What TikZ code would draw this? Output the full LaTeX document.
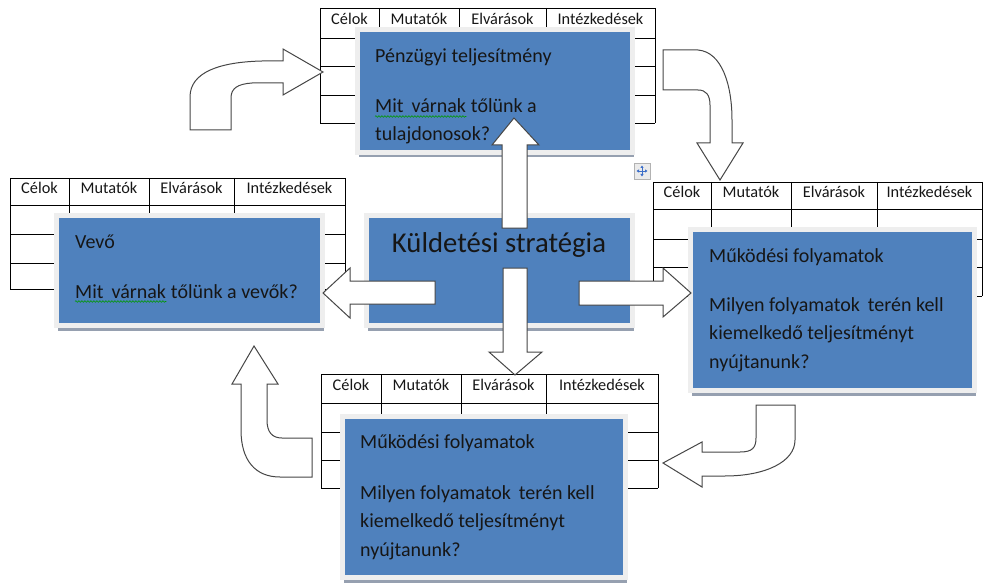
\documentclass[tikz,border=0pt]{standalone}
\usepackage{fontspec}
\setmainfont{Carlito}
\usetikzlibrary{decorations.pathmorphing,shadows,arrows.meta}
\definecolor{boxblue}{RGB}{79,129,189}
\definecolor{framec}{RGB}{238,238,238}
\definecolor{shadowc}{RGB}{150,160,176}
\definecolor{txt}{RGB}{22,22,22}
\definecolor{arrline}{RGB}{70,70,70}
\definecolor{iconblue}{RGB}{60,110,200}
\begin{document}
\begin{tikzpicture}[x=1pt,y=-1pt,
  tline/.style={line width=0.9pt,black},
  hdr/.style={font=\fontsize{16.3}{18}\selectfont, text=txt, inner sep=0},
  btxt/.style={font=\fontsize{20}{23}\selectfont, text=txt, anchor=base west, inner sep=0},
  bbox/.style={fill=boxblue, draw=framec, line width=5pt, inner sep=0,
    drop shadow={shadow xshift=1pt, shadow yshift=-5pt, fill=shadowc, opacity=1}},
  arr/.style={fill=white, draw=arrline, line width=1pt, line join=miter},
  squig/.style={draw=green!60!black, line width=0.6pt, decorate,
    decoration={snake, segment length=3pt, amplitude=0.8pt}},
]
\useasboundingbox (0,0) rectangle (986,583);

% ---------- tables ----------
% top table
\foreach \y in {8,38,66,95,123} \draw[tline] (320,\y) -- (655,\y);
\foreach \x in {320,379,459,546,655} \draw[tline] (\x,8) -- (\x,123);
\node[hdr] (th1) at (349.5,19) {Célok};
\node[hdr] (th2) at (419,19) {Mutatók};
\node[hdr] (th3) at (502.5,19) {Elvárások};
\node[hdr] (th4) at (600.5,19) {Intézkedések};
% left table
\foreach \y in {178,205,234,263,289} \draw[tline] (10,\y) -- (345,\y);
\foreach \x in {10,69,149,234,345} \draw[tline] (\x,178) -- (\x,289);
\node[hdr] (lh1) at (39.5,188) {Célok};
\node[hdr] (lh2) at (109,188) {Mutatók};
\node[hdr] (lh3) at (191.5,188) {Elvárások};
\node[hdr] (lh4) at (289.5,188) {Intézkedések};
% right table
\foreach \y in {182,209,239,267,296} \draw[tline] (653,\y) -- (982,\y);
\foreach \x in {653,711,791,877,982} \draw[tline] (\x,182) -- (\x,296);
\node[hdr] (rh1) at (682,192) {Célok};
\node[hdr] (rh2) at (751,192) {Mutatók};
\node[hdr] (rh3) at (834,192) {Elvárások};
\node[hdr] (rh4) at (929.5,192) {Intézkedések};
% bottom table
\foreach \y in {374,403,432,460,488} \draw[tline] (321,\y) -- (658,\y);
\foreach \x in {321,381,461,546,658} \draw[tline] (\x,374) -- (\x,488);
\node[hdr] (bh1) at (351,385) {Célok};
\node[hdr] (bh2) at (421,385) {Mutatók};
\node[hdr] (bh3) at (503.5,385) {Elvárások};
\node[hdr] (bh4) at (602,385) {Intézkedések};

% ---------- blue boxes ----------
\node[bbox, minimum width=275pt, minimum height=123pt] (topbox) at (495,91) {};
\node[bbox, minimum width=266pt, minimum height=110pt] (leftbox) at (189.5,270.5) {};
\node[bbox, minimum width=266pt, minimum height=110pt] (midbox) at (499.5,270.5) {};
\node[bbox, minimum width=284pt, minimum height=161pt] (rightbox) at (832.5,310) {};
\node[bbox, minimum width=283pt, minimum height=161pt] (botbox) at (484,497) {};

% ---------- box texts ----------
\node[btxt] (t1) at (375,63) {Pénzügyi teljesítmény};
\node[btxt] (t2) at (375,113) {Mit\hspace{0.4em}várnak};
\node[btxt] (t2b) at (t2.base east) {\ tőlünk a};
\node[btxt] (t3) at (375,141) {tulajdonosok?};
\draw[squig] ([yshift=-3.5pt]t2.base west) -- ([yshift=-3.5pt]t2.base east);

\node[btxt] (l1) at (75,248) {Vevő};
\node[btxt] (l2) at (75,298) {Mit\hspace{0.4em}várnak};
\node[btxt] (l2b) at (l2.base east) {\ tőlünk a vevők?};
\draw[squig] ([yshift=-3.5pt]l2.base west) -- ([yshift=-3.5pt]l2.base east);

\node[font=\fontsize{28.7}{32}\selectfont, text=txt, inner sep=0, anchor=base] (m1) at (499,252) {Küldetési stratégia};

\node[btxt] (r1) at (709,262) {Működési folyamatok};
\node[btxt] (r2) at (709,311) {Milyen folyamatok\hspace{0.4em}terén kell};
\node[btxt] (r3) at (709,339) {kiemelkedő teljesítményt};
\node[btxt] (r4) at (709,368) {nyújtanunk?};

\node[btxt] (b1) at (360,448) {Működési folyamatok};
\node[btxt] (b2) at (360,499) {Milyen folyamatok\hspace{0.4em}terén kell};
\node[btxt] (b3) at (360,527) {kiemelkedő teljesítményt};
\node[btxt] (b4) at (360,556) {nyújtanunk?};

% ---------- straight block arrows from centre ----------
\draw[arr] (502,228) -- (502,145) -- (492,145) -- (514,118) -- (539,145) -- (527,145) -- (527,228) -- cycle;
\draw[arr] (503,268) -- (503,352) -- (489,352) -- (515,375) -- (542,352) -- (527,352) -- (527,268) -- cycle;
\draw[arr] (435,281) -- (350,281) -- (350,268) -- (323,293) -- (350,318) -- (350,304) -- (435,304) -- cycle;
\draw[arr] (579,281) -- (663,281) -- (663,268) -- (691,293) -- (663,317) -- (663,305) -- (579,305) -- cycle;

% ---------- curved block arrows ----------
% top-left
\draw[arr] (190,130) -- (190,97) .. controls (190,72) and (220,62) .. (262,61) -- (283,61)
  -- (283,49) -- (323,72) -- (283,95) -- (283,83) -- (252,83)
  .. controls (238,84) and (231,88) .. (231,98) -- (231,130) -- cycle;
% top-right
\draw[arr] (663,50) -- (698,50) .. controls (722,52) and (732,85) .. (732,120) -- (732,143)
  -- (743,143) -- (720,180) -- (697,143) -- (710,143) -- (710,105)
  .. controls (710,95) and (706,90) .. (698,90) -- (663,90) -- cycle;
% bottom-right
\draw[arr] (756,405) -- (795,405) -- (795,440) .. controls (795,462) and (765,476) .. (725,476)
  -- (702,476) -- (702,487) -- (663,463) -- (702,442) -- (702,452) -- (740,452)
  .. controls (752,452) and (756,448) .. (756,438) -- cycle;
% bottom-left
\draw[arr] (232,384) -- (254,346) -- (278,384) -- (267,384) -- (267,420)
  .. controls (267,432) and (272,438) .. (282,438) -- (312,438) -- (312,477) -- (280,477)
  .. controls (255,477) and (241,460) .. (241,430) -- (241,384) -- cycle;

% ---------- move handle icon ----------
\node[draw=black!30, fill=black!8, minimum size=16pt, inner sep=0] (icon) at (642,171) {};
\draw[iconblue, line width=0.9pt, {Triangle[length=2.5pt,width=3pt]}-{Triangle[length=2.5pt,width=3pt]}]
  ([yshift=5.5pt]icon.center) -- ([yshift=-5.5pt]icon.center);
\draw[iconblue, line width=0.9pt, {Triangle[length=2.5pt,width=3pt]}-{Triangle[length=2.5pt,width=3pt]}]
  ([xshift=-5.5pt]icon.center) -- ([xshift=5.5pt]icon.center);
\end{tikzpicture}
\end{document}
